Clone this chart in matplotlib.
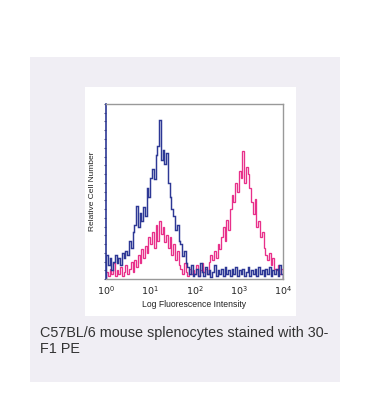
import numpy as np
import matplotlib
matplotlib.use('Agg')
import matplotlib.pyplot as plt
from matplotlib.patches import Rectangle

# histogram channels: 25 bins per decade, 10^0 .. 10^4
decades = np.linspace(0, 4, 101)

# isotype control (blue)
blue = [14, 8, 12, 5, 10, 14, 9, 12, 8, 15, 12, 16, 14,
        22, 18, 27, 31, 42,
        30, 38, 33, 41, 36,
        52, 47, 58,
        63, 57, 71,
        76, 91, 68,
        74, 66, 72,
        55, 47, 40,
        36, 28, 31, 22,
        20, 13, 16, 9,
        7, 3, 8, 2,
        3, 6, 2, 9, 4, 2, 7, 3, 5, 1,
        4, 8, 2, 5, 3, 6, 2, 7, 3, 5,
        2, 6, 3, 7, 2, 5, 3, 6, 2, 4,
        7, 2, 5, 3, 6, 2, 7, 3, 5, 2,
        6, 3, 7, 2, 5, 3, 6, 2, 8, 3]

# 30-F1 PE (pink)
pink = [4, 2, 6, 3, 9, 2, 5, 3, 7, 2, 4, 8, 3,
        6, 10, 4, 11, 7,
        14, 9, 17, 12, 19,
        15, 24, 20,
        27, 18, 31,
        22, 33, 26,
        30, 21, 25,
        18, 24, 14,
        20, 11, 16, 8,
        6, 3, 9, 4,
        2, 6, 3, 5,
        3, 8, 2, 5, 9, 4, 6, 3, 10,
        14, 11, 16, 12, 20, 17,
        24, 30, 22, 34, 28,
        40, 48, 44, 55, 50,
        62, 58, 73,
        55, 64, 60, 52,
        44, 37, 46, 30, 33,
        24, 27, 18, 14,
        11, 15, 8, 12, 6,
        5, 8, 3, 6]

xticks = [1, 10, 100, 1000, 10000]
xticklabels = ['$10^0$', '$10^1$', '$10^2$', '$10^3$', '$10^4$']
caption = 'C57BL/6 mouse splenocytes stained with 30-\nF1 PE'

fig = plt.figure(figsize=(3.67, 4.19), dpi=100)
fig.patch.set_facecolor('white')

# background panel and white chart box
fig.patches.append(Rectangle((0.0817, 0.0883), 0.845, 0.776, transform=fig.transFigure,
                             facecolor='#f0eef4', edgecolor='none', zorder=0))
fig.patches.append(Rectangle((0.2316, 0.2458), 0.575, 0.5465, transform=fig.transFigure,
                             facecolor='white', edgecolor='none', zorder=1))

ax = fig.add_axes([0.2888, 0.3341, 0.4823, 0.4177])
ax.set_zorder(5)
edges = 10 ** decades
ax.stairs(pink, edges, color='#e8308a', lw=0.95)
ax.stairs(blue, edges, color='#2d3895', lw=1.05)

ax.set_xscale('log')
ax.set_xlim(1, 10000)
ax.set_ylim(0, 100)
ax.set_xticks(xticks)
ax.set_xticklabels(xticklabels, fontsize=6.8, family='Liberation Sans', color='#222222')
ax.xaxis.set_minor_locator(matplotlib.ticker.NullLocator())
ax.tick_params(axis='x', length=0, pad=4)
ax.set_yticks(np.arange(0, 101, 5))
ax.set_yticklabels([])
ax.tick_params(axis='y', length=1.5, width=0.8, color='#555577')
ax.set_xlabel('Log Fluorescence Intensity', fontsize=6.2, family='Liberation Sans',
              color='#222222', labelpad=2)
ax.set_ylabel('Relative Cell Number', fontsize=6, family='Liberation Sans',
              color='#222222', labelpad=2)

for s in ['top', 'right', 'bottom']:
    ax.spines[s].set_color('#999999')
    ax.spines[s].set_linewidth(1.0)
ax.spines['left'].set_color('#2d3895')
ax.spines['left'].set_linewidth(1.2)

fig.text(0.109, 0.222, caption, fontsize=10.4, family='Liberation Sans', color='#333333',
         va='top', ha='left', linespacing=1.15)

fig.savefig('out.png', dpi=100)
